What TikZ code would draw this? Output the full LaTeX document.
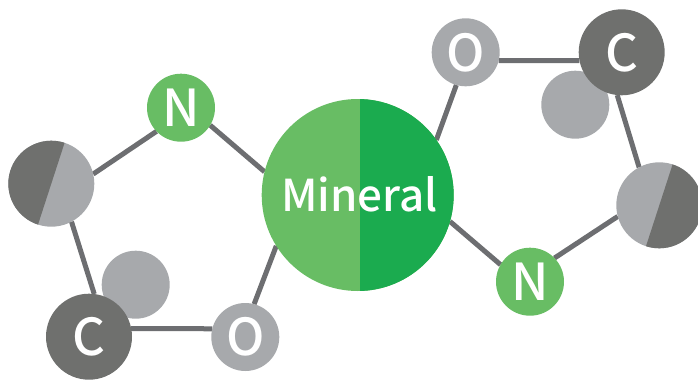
\documentclass[tikz,border=0pt]{standalone}
\usepackage{fontspec}
\setmainfont[UprightFont=* Medium]{Noto Sans CJK SC}
\usetikzlibrary{backgrounds}
\definecolor{lightgreen}{HTML}{68BD64}
\definecolor{darkgreen}{HTML}{1BAB4F}
\definecolor{lightgrey}{HTML}{A7A9AC}
\definecolor{darkgrey}{HTML}{6F706E}
\definecolor{bondgrey}{HTML}{6D6E71}
\tikzset{
  atom/.style={circle, inner sep=0pt, outer sep=0pt, minimum size=1.36cm, text=white, font=\fontsize{29}{29}\selectfont},
  bigatom/.style={atom, minimum size=1.72cm},
  nitrogen/.style={atom, fill=lightgreen},
  oxygen/.style={atom, fill=lightgrey},
  carbon/.style={bigatom, fill=darkgrey},
  bond/.style={color=bondgrey, line width=0.1cm}
}
\begin{document}
\begin{tikzpicture}
\useasboundingbox (0,0) rectangle (13.96,7.58);
\node[nitrogen] (nleft) at (3.620, 5.426) {N};
\node[bigatom, fill=lightgrey, path picture={\fill[darkgrey] (72:2) -- (162:2) -- (252:2) -- cycle;}] (hleft) at (1.026, 3.906) {};
\node[oxygen] (gleft) at (2.714, 1.886) {};
\node[carbon] (cleft) at (1.780, 0.846) {C};
\node[oxygen] (oleft) at (4.906, 0.840) {O};
\node[atom, minimum size=3.84cm, fill=lightgreen, path picture={\fill[darkgreen] (0.046,-2) -- (0.046,2) -- (2,2) -- (2,-2) -- cycle;}] (mineral) at (7.154, 3.680) {};
\node[text=white, inner sep=0pt, anchor=base, font=\fontsize{25}{25}\selectfont] (mineraltext) at (7.190, 3.350) {Mineral};
\node[oxygen] (oright) at (9.314, 6.534) {O};
\node[oxygen] (gright) at (11.506, 5.486) {};
\node[carbon] (cright) at (12.434, 6.534) {C};
\node[bigatom, fill=lightgrey, path picture={\fill[darkgrey] (252:2) -- (342:2) -- (72:2) -- cycle;}] (hright) at (13.186, 3.474) {};
\node[nitrogen] (nright) at (10.600, 1.946) {N};

\begin{scope}[on background layer]
\draw[bond] (nleft.224) -- (hleft.13);
\draw[bond] (nleft.-31) -- (mineral.166);
\draw[bond] (hleft.-62) -- (cleft.83);
\draw[bond] (cleft.11) -- (oleft.166);
\draw[bond] (oleft.75) -- (mineral.212);
\draw[bond] (oright.254) -- (mineral.35);
\draw[bond] (oright.-14) -- (cright.191);
\draw[bond] (cright.264) -- (hright.118);
\draw[bond] (hright.195) -- (nright.44);
\draw[bond] (nright.150) -- (mineral.-16);
\end{scope}
\end{tikzpicture}
\end{document}
